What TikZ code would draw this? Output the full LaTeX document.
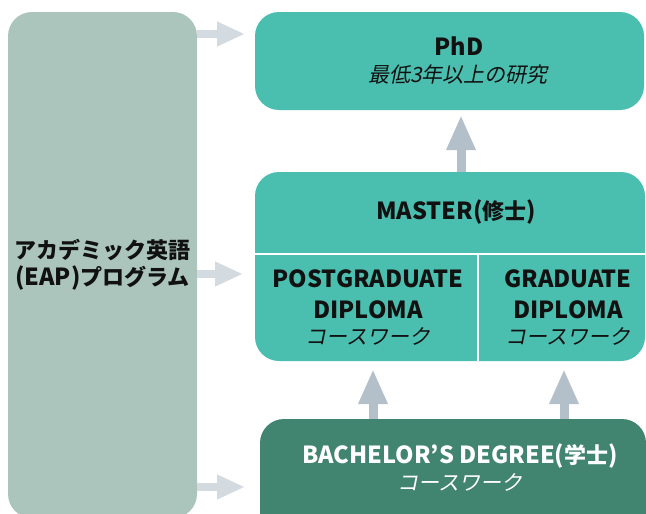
\documentclass[tikz,border=0pt]{standalone}
\usepackage{fontspec}
\setmainfont{Noto Sans CJK JP}
\newfontfamily\jpit{Noto Sans CJK JP}[FakeSlant=0.2]
\usetikzlibrary{arrows.meta}
\definecolor{eapcol}{HTML}{ABC5BC}
\definecolor{tealcol}{HTML}{4BBFAF}
\definecolor{darkcol}{HTML}{41846F}
\definecolor{sidecol}{HTML}{D3DBE1}
\definecolor{upcol}{HTML}{B3C0C9}
\definecolor{txtcol}{HTML}{111111}
\newcommand\cjs[1]{{\fontsize{22}{26}\selectfont #1}}
\tikzset{
  box/.style={rounded corners=24pt, inner sep=0pt, outer sep=0pt, draw=none},
  ttl/.style={anchor=base, inner sep=0pt, text=txtcol, font=\bfseries\fontsize{23.5}{28}\selectfont},
  sub/.style={anchor=base, inner sep=0pt, text=txtcol, font=\jpit\fontsize{21}{25}\selectfont},
  sidearrow/.style={draw=sidecol, line width=8pt, -{Triangle[width=23pt,length=28pt]}},
  uparrow/.style={draw=upcol, line width=9pt, -{Triangle[width=27pt,length=35pt]}},
  divider/.style={draw=white, line width=2pt},
}
\begin{document}
\begin{tikzpicture}[x=1pt,y=-1pt]
\useasboundingbox (0,0) rectangle (646,514);
\clip (0,0) rectangle (646,514);
% boxes
\node[box, fill=eapcol, minimum width=189pt, minimum height=506pt] (eap) at (102.5,265) {};
\node[box, fill=tealcol, minimum width=389pt, minimum height=98pt] (phd) at (449.5,61) {};
\node[box, fill=tealcol, minimum width=390pt, minimum height=189pt] (master) at (450,266.5) {};
\node[box, fill=darkcol, minimum width=386pt, minimum height=130pt] (bach) at (453,484) {};
% master dividers
\coordinate (hl) at (255,254);
\coordinate (hr) at (645,254);
\coordinate (vt) at (478,254);
\coordinate (vb) at (478,361);
\draw[divider] (hl) -- (hr);
\draw[divider] (vt) -- (vb);
% texts
\node[ttl] (eap1) at (102.5,258) {\cjs{アカデミック英語}};
\node[ttl] (eap2) at (102.5,285) {(EAP)\cjs{プログラム}};
\node[ttl] (phdT) at (459,55) {PhD};
\node[sub] (phdS) at (458,82) {最低3年以上の研究};
\node[ttl] (masT) at (456,219) {MASTER(\cjs{修士})};
\node[ttl] (pgT1) at (368,287) {POSTGRADUATE};
\node[ttl] (pgT2) at (368,318) {DIPLOMA};
\node[sub] (pgS) at (368,344) {コースワーク};
\node[ttl] (gdT1) at (568,287) {GRADUATE};
\node[ttl] (gdT2) at (568,318) {DIPLOMA};
\node[sub] (gdS) at (568,344) {コースワーク};
\node[ttl, text=white] (baT) at (460,463) {BACHELOR’S DEGREE(\cjs{学士})};
\node[sub, text=white] (baS) at (460,490) {コースワーク};
% side arrows
\draw[sidearrow, shorten >=10pt] (eap.east |- 0,34) -- (phd.west |- 0,34);
\draw[sidearrow, shorten >=12pt] (eap.east |- 0,274) -- (master.west |- 0,274);
\draw[sidearrow, shorten >=15pt] (eap.east |- 0,487) -- (bach.west |- 0,487);
% up arrows
\draw[uparrow, shorten >=5pt] (master.north -| 461,0) -- (phd.south -| 461,0);
\draw[uparrow, shorten >=8pt] (bach.north -| 373,0) -- (master.south -| 373,0);
\draw[uparrow, shorten >=8pt] (bach.north -| 564,0) -- (master.south -| 564,0);
\end{tikzpicture}
\end{document}
